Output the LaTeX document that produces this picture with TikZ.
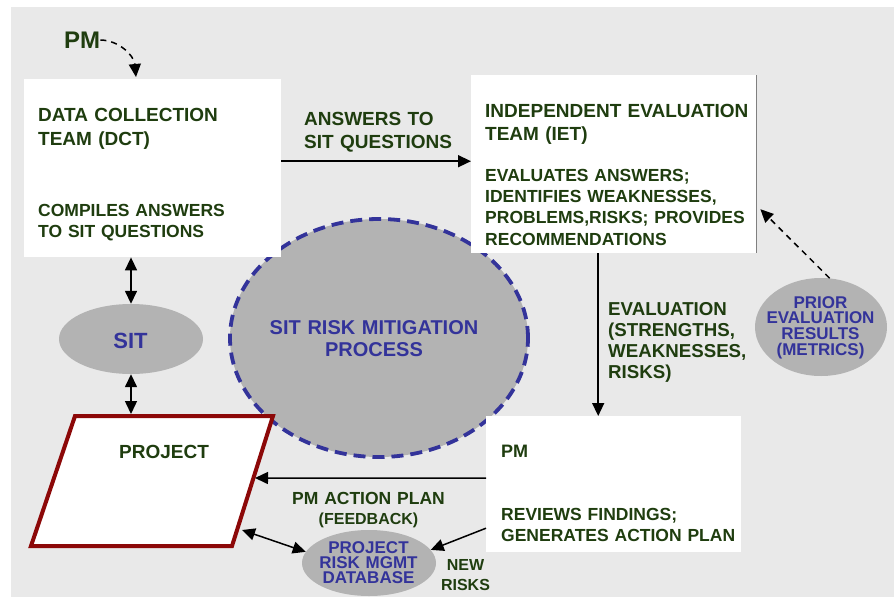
\documentclass[tikz,border=0pt]{standalone}
\usepackage{fontspec}
\setmainfont{Liberation Sans}
\usetikzlibrary{shapes.geometric,arrows.meta,calc}
\definecolor{bg}{HTML}{E9E9E9}
\definecolor{ellfill}{HTML}{B3B3B3}
\definecolor{dgreen}{HTML}{1F3D0F}
\definecolor{dblue}{HTML}{33339A}
\definecolor{dred}{HTML}{8C0808}
\begin{document}
\begin{tikzpicture}[x=1pt,y=-1pt,
  wbox/.style={rectangle,fill=white,draw=none,inner sep=0pt,anchor=north west},
  ellnode/.style={ellipse,fill=ellfill,draw=none,inner sep=0pt},
  gtext/.style={inner sep=0pt,text=dgreen,font=\bfseries,anchor=base west,align=left,text width=320pt},
  ctext/.style={inner sep=0pt,font=\bfseries,anchor=base,align=center,text width=220pt},
  arr/.style={line width=1.5pt,-{Triangle[length=13pt,width=12pt]}},
  darr/.style={line width=1.5pt,{Triangle[length=13pt,width=12pt]}-{Triangle[length=13pt,width=12pt]}},
  dsh/.style={dash pattern=on 6pt off 5pt}]
\useasboundingbox (0,0) rectangle (894,597);
\fill[bg] (11,7) rectangle (894,597);

% big process ellipse
\node[ellnode,draw=dblue,line width=3.8pt,dash pattern=on 12pt off 7pt,
  minimum width=298pt,minimum height=238pt] (srm) at (379,338) {};

% boxes
\node[wbox,minimum width=257pt,minimum height=178pt] (dct) at (24,79) {};
\node[wbox,minimum width=285pt,minimum height=178pt] (iet) at (471,75) {};
\draw[gray,line width=0.8pt] (iet.north east) -- (iet.south east);
\node[wbox,minimum width=255pt,minimum height=136pt] (pm) at (486,416) {};

% project parallelogram
\coordinate (p1) at (75,416);
\coordinate (p2) at (273,416);
\coordinate (p3) at (232,546);
\coordinate (p4) at (31,546);
\draw[dred,line width=4pt,fill=white] (p1) -- (p2) -- (p3) -- (p4) -- cycle;

% ellipses
\node[ellnode,minimum width=144pt,minimum height=70pt] (sit) at (131,339) {};
\node[ellnode,minimum width=132pt,minimum height=98pt] (prior) at (821,327) {};
\node[ellnode,minimum width=134pt,minimum height=66pt] (db) at (369,563) {};

% texts
\node[inner sep=0pt,text=dgreen,anchor=base west,font=\bfseries\fontsize{24}{28}\selectfont] (pmtop) at (64,48.3) {PM};
\node[gtext,font=\bfseries\fontsize{19}{23.3}\selectfont] (dcth) at (38,121.7) {DATA COLLECTION\\TEAM (DCT)};
\node[gtext,font=\bfseries\fontsize{17.5}{20.7}\selectfont] (dctb) at (38,216.7) {COMPILES ANSWERS\\TO SIT QUESTIONS};
\node[gtext,font=\bfseries\fontsize{19}{22.3}\selectfont] (ieth) at (485,117.7) {INDEPENDENT EVALUATION\\TEAM (IET)};
\node[gtext,font=\bfseries\fontsize{17.5}{21.1}\selectfont] (ietb) at (485,181.7) {EVALUATES ANSWERS;\\IDENTIFIES WEAKNESSES,\\PROBLEMS,RISKS; PROVIDES\\RECOMMENDATIONS};
\node[gtext,font=\bfseries\fontsize{19}{22.6}\selectfont] (ansl) at (304,125.7) {ANSWERS TO\\SIT QUESTIONS};
\node[gtext,font=\bfseries\fontsize{18.7}{21.1}\selectfont] (evall) at (608,315) {EVALUATION\\(STRENGTHS,\\WEAKNESSES,\\RISKS)};
\node[ctext,text=dblue,font=\bfseries\fontsize{17}{15.6}\selectfont] (priort) at (820.5,308.3) {PRIOR\\EVALUATION\\RESULTS\\(METRICS)};
\node[ctext,text=dblue,font=\bfseries\fontsize{20}{22.4}\selectfont] (srmt) at (374,334.3) {SIT RISK MITIGATION\\PROCESS};
\node[ctext,text=dblue,font=\bfseries\fontsize{22}{26}\selectfont] (sitt) at (130.5,348.3) {SIT};
\node[ctext,text=dgreen,font=\bfseries\fontsize{19}{23}\selectfont] (projt) at (164,458.3) {PROJECT};
\node[gtext,font=\bfseries\fontsize{18}{22}\selectfont] (pmh) at (501,457.3) {PM};
\node[gtext,font=\bfseries\fontsize{17.5}{21}\selectfont] (pmb) at (501,520.7) {REVIEWS FINDINGS;\\GENERATES ACTION PLAN};
\node[ctext,text=dgreen,font=\bfseries\fontsize{17.5}{20.5}\selectfont] (apl) at (368.5,504) {PM ACTION PLAN\\\fontsize{16}{20.5}\selectfont (FEEDBACK)};
\node[ctext,text=dgreen,font=\bfseries\fontsize{16}{20.7}\selectfont] (newr) at (465.5,570) {NEW\\RISKS};
\node[ctext,text=dblue,font=\bfseries\fontsize{17}{15.3}\selectfont] (dbt) at (368.5,553.3) {PROJECT\\RISK MGMT\\DATABASE};

% connectors
\coordinate (a1) at ($(dct.east)+(0,-7)$);
\draw[arr] (a1) -- (a1 -| iet.west);
\coordinate (a2) at ($(iet.south)+(-15.5,0)$);
\draw[arr] (a2) -- (a2 |- pm.north);
\coordinate (a3) at ($(pm.west)+(0,-6)$);
\coordinate (projR) at (255,478);
\draw[arr] (a3) -- (projR);
\coordinate (a4) at ($(pm.west)+(0,44)$);
\draw[arr] (a4) -- (db.12);
\coordinate (projB) at (242,530);
\draw[darr] (projB) -- (db.170);
\draw[darr] (sit.north |- dct.south) -- (sit.north);
\coordinate (projT) at (131,414);
\draw[darr] (sit.south) -- (projT);
\coordinate (a6) at ($(iet.east)+(4,45)$);
\draw[arr,dsh] (prior.80) -- (a6);
\coordinate (a7) at ($(dct.north west)+(112,-2)$);
\draw[arr,dsh] (pmtop.east) .. controls (118,40) and (134,55) .. (a7);
\end{tikzpicture}
\end{document}
